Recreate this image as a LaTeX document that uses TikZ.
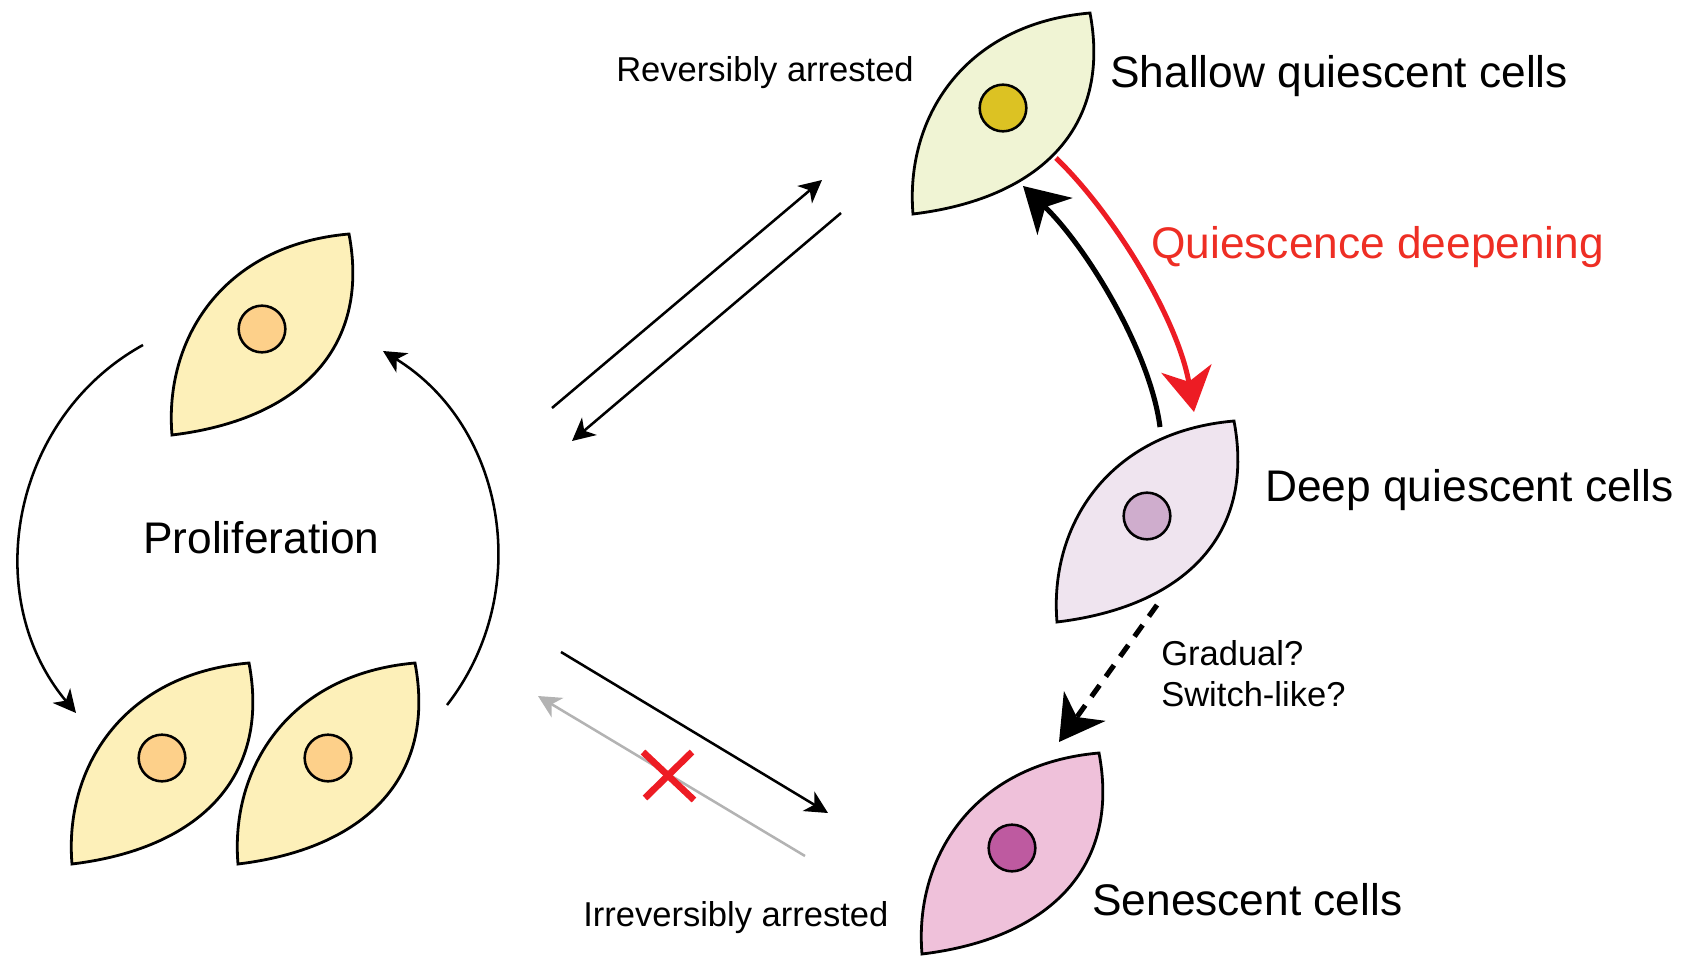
\documentclass[tikz,border=0pt]{standalone}
\usepackage{fontspec}
\setmainfont{Liberation Sans}
\usetikzlibrary{arrows.meta}
\definecolor{redline}{HTML}{ED1C24}
\definecolor{redtext}{HTML}{EE2E24}
\definecolor{greyline}{HTML}{B3B3B3}
\definecolor{prolifbody}{HTML}{FDF0B9}
\definecolor{prolifcore}{HTML}{FDD08A}
\definecolor{shallowbody}{HTML}{F0F4D4}
\definecolor{shallowcore}{HTML}{DCC223}
\definecolor{deepbody}{HTML}{EFE4EF}
\definecolor{deepcore}{HTML}{CFADCD}
\definecolor{senbody}{HTML}{EFC1DA}
\definecolor{sencore}{HTML}{BE5AA0}
\tikzset{
  x=0.75pt, y=-0.75pt,
  body/.style={draw=black, line width=2.1pt, line join=miter},
  core/.style={circle, draw=black, line width=1.9pt, inner sep=0pt, minimum size=35pt},
  big/.style={font=\fontsize{33.2}{38}\selectfont, anchor=base west, inner sep=0pt},
  small/.style={font=\fontsize{25.9}{30}\selectfont, anchor=base west, inner sep=0pt},
  thin tip/.style={-{Stealth[length=17pt,width=17pt,inset=5pt]}},
  thick tip/.style={-{Stealth[length=33pt,width=38pt,inset=10pt]}},
  thinarrow/.style={line width=1.9pt, thin tip},
  thickarrow/.style={line width=3.8pt, thick tip},
}
% A cell: #1 name, #2 lower-left corner, #3 body colour, #4 nucleus offset, #5 nucleus colour
\newcommand{\cellshape}[5]{%
  \begin{scope}[shift={#2}]
    \path[body, fill=#3] (0,0) .. controls (-8,-95) and (50,-190) .. (177,-201)
      .. controls (199,-85) and (125,-15) .. (0,0) -- cycle;
    \node[core, fill=#5] (#1) at #4 {};
  \end{scope}}
\begin{document}
\begin{tikzpicture}
\useasboundingbox (0,0) rectangle (1682,956);

% Cells
\cellshape{prolifTop}{(172,435)}{prolifbody}{(90,-106)}{prolifcore}
\cellshape{prolifLeft}{(72,864)}{prolifbody}{(90,-106)}{prolifcore}
\cellshape{prolifRight}{(238,864)}{prolifbody}{(90,-106)}{prolifcore}
\cellshape{shallow}{(913,214)}{shallowbody}{(90,-106)}{shallowcore}
\cellshape{deep}{(1057,622)}{deepbody}{(90,-106)}{deepcore}
\cellshape{senescent}{(922,954)}{senbody}{(90,-106)}{sencore}

% Connector end points
\coordinate (cycleAs) at (143,345);  \coordinate (cycleAe) at (76,713);
\coordinate (cycleBs) at (447,705);  \coordinate (cycleBe) at (383,351);
\coordinate (upAs) at (552,408);     \coordinate (upAe) at (822,180);
\coordinate (upBs) at (841,213);     \coordinate (upBe) at (572,441);
\coordinate (downAs) at (561,652);   \coordinate (downAe) at (828,813);
\coordinate (downBs) at (805,856);   \coordinate (downBe) at (538,696);
\coordinate (redS) at (1056,158);    \coordinate (redE) at (1194,412);
\coordinate (backS) at (1160,427);   \coordinate (backE) at (1023,186);
\coordinate (dashS) at (1157,605);   \coordinate (dashE) at (1059,742);
\coordinate (crossA) at (643,752);   \coordinate (crossB) at (694,800);
\coordinate (crossC) at (692,752);   \coordinate (crossD) at (645,798);

% Proliferation cycle
\draw[thinarrow] (cycleAs) .. controls (11,418) and (-21,597) .. (cycleAe);
\draw[thinarrow] (cycleBs) .. controls (535,592) and (505,426) .. (cycleBe);

% Exchange with the quiescent and senescent states
\draw[thinarrow] (upAs) -- (upAe);
\draw[thinarrow] (upBs) -- (upBe);
\draw[thinarrow] (downAs) -- (downAe);
\draw[thinarrow, greyline] (downBs) -- (downBe);
\draw[redline, line width=5pt] (crossA) -- (crossB);
\draw[redline, line width=5pt] (crossC) -- (crossD);

% Quiescence depth transitions
\draw[thickarrow, redline] (redS) .. controls (1115,215) and (1178,320) .. (redE);
\draw[thickarrow] (backS) .. controls (1150,350) and (1085,245) .. (backE);
\draw[line width=3.8pt, dash pattern=on 10.5pt off 8pt, thick tip] (dashS) -- (dashE);

% Labels
\node[big] (lblShallow) at (1110,88) {Shallow quiescent cells};
\node[big, text=redtext] (lblDeepening) at (1151,258) {Quiescence deepening};
\node[big] (lblDeep) at (1265,501) {Deep quiescent cells};
\node[big] (lblSenescent) at (1092,915) {Senescent cells};
\node[big] (lblProlif) at (143,553) {Proliferation};
\node[small] (lblReversible) at (616,82) {Reversibly arrested};
\node[small] (lblIrreversible) at (583,926) {Irreversibly arrested};
\node[small] (lblGradual) at (1161,665) {Gradual?};
\node[small] (lblSwitch) at (1161,706) {Switch-like?};
\end{tikzpicture}
\end{document}
